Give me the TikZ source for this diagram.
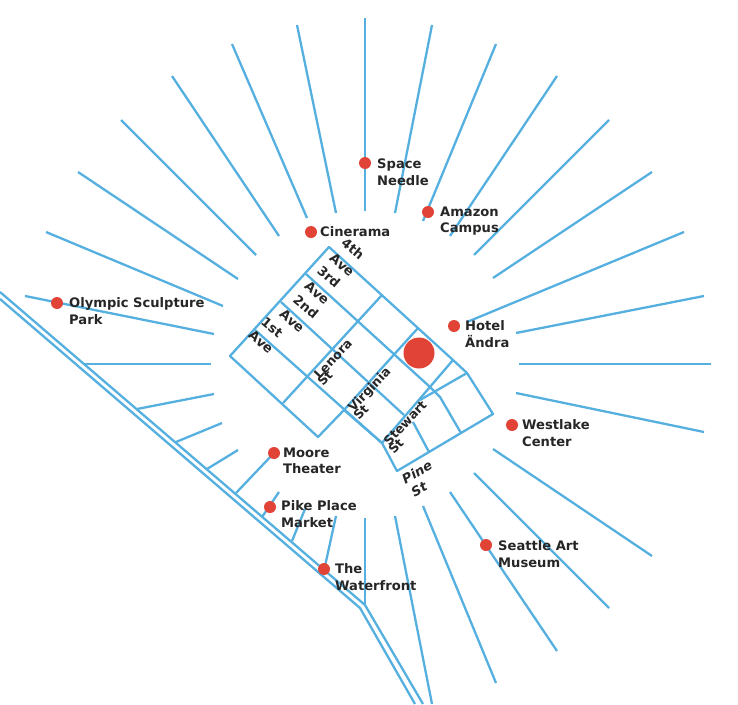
\documentclass[tikz,border=0pt]{standalone}
\usepackage{fontspec}
\setmainfont{DejaVu Sans}
\definecolor{roadblue}{HTML}{55B0E0}
\definecolor{spotred}{HTML}{E14437}
\definecolor{labelgray}{HTML}{262626}
\tikzset{
  road/.style={roadblue,line width=2.3pt},
  spot/.style={circle,fill=spotred,inner sep=0pt,minimum size=12pt},
  place/.style={right,align=left,inner sep=0pt,text=labelgray,font=\fontsize{13.1}{16.5}\selectfont\bfseries},
  avelabel/.style={inner sep=0pt,text=labelgray,rotate=-40,font=\fontsize{13.1}{16}\selectfont\bfseries},
  stlabel/.style={inner sep=0pt,text=labelgray,rotate=47,font=\fontsize{12.6}{16}\selectfont\bfseries},
  pinelabel/.style={inner sep=0pt,text=labelgray,rotate=30,font=\fontsize{13.1}{16}\selectfont\bfseries\itshape}
}
\begin{document}
\begin{tikzpicture}[x=1pt,y=-1pt]
    \useasboundingbox (0,0) rectangle (738,704);
    % rays round the centre
    \foreach \xa/\ya/\xb/\yb in {365/18/365/211, 297/25/336/213, 232/44/307/218, 172/76/279/236,
        121/120/256/255, 78/172/238/279, 46/232/223/306, 25/296/214/334,
        84/364/211/364, 137/409/214/394, 176/442/222/423, 207/469/238/450,
        236/493/274/453, 262/517/279/492, 292/541/305/509, 325/566/336/516,
        365/518/365/605, 395/516/432/704, 423/506/496/683, 450/492/557/651,
        474/473/609/608, 493/449/652/556, 516/393/704/432, 519/364/711/364,
        516/333/704/296, 467/322/684/232, 493/278/652/172, 474/255/609/120,
        450/236/557/76, 423/221/496/44, 395/213/432/25}
        { \draw[road] (\xa,\ya)--(\xb,\yb); }
    % highway
    \draw[road] (0,292)--(365,605)--(423,704);
    \draw[road] (0,299)--(360,608)--(415,704);
    % streets
    \draw[road,line join=round] (329,247)--(453,360)--(467,373)--(493,414)--(397,471)--(382,443)--(344,410)--(318,437)--(230,356)--cycle;
    \draw[road] (255,330)--(382,443);
    \draw[road] (281,302)--(404,415);
    \draw[road] (306,274)--(430,387)--(440,397)--(461,433);
    \draw[road] (413,422)--(429,452);
    \draw[road] (382,295)--(283,403);
    \draw[road] (453,360)--(382,443);
    \draw[road] (418,328)--(344,410);
    \draw[road] (467,373)--(420,400);
    % places
    \node[spot] (needle) at (365,163) {};
    \node[place] at (377,172) {Space\\Needle};
    \node[spot] (amazon) at (428,212) {};
    \node[place] at (440,221) {Amazon\\Campus};
    \node[spot] (cinerama) at (311,232) {};
    \node[place] at (320,232) {Cinerama};
    \node[spot] (olympic) at (57,303) {};
    \node[place] at (69,311) {Olympic Sculpture\\Park};
    \node[spot] (hotel) at (454,326) {};
    \node[place] at (465,334) {Hotel\\Ändra};
    \node[spot,minimum size=31pt] (here) at (419,353) {};
    \node[spot] (westlake) at (512,425) {};
    \node[place] at (522,433) {Westlake\\Center};
    \node[spot] (moore) at (274,453) {};
    \node[place] at (283,461) {Moore\\Theater};
    \node[spot] (pike) at (270,507) {};
    \node[place] at (281,514) {Pike Place\\Market};
    \node[spot] (seattle) at (486,545) {};
    \node[place] at (498,554) {Seattle Art\\Museum};
    \node[spot] (waterfront) at (324,569) {};
    \node[place] at (335,577) {The\\Waterfront};
    % street names
    \node[avelabel] (fourth) at (353,249) {4th};
    \node[avelabel] (fourthave) at (342,265) {Ave};
    \node[avelabel] (third) at (329,277) {3rd};
    \node[avelabel] (thirdave) at (317,293) {Ave};
    \node[avelabel] (second) at (306,307) {2nd};
    \node[avelabel] (secondave) at (292,321) {Ave};
    \node[avelabel] (first) at (272,327) {1st};
    \node[avelabel] (firstave) at (261,342) {Ave};
    \node[stlabel] (lenora) at (333,359) {Lenora};
    \node[stlabel] (lenorast) at (325,378) {St};
    \node[stlabel] (virginia) at (370,390) {Virginia};
    \node[stlabel] (virginiast) at (361,412) {St};
    \node[stlabel] (stewart) at (405,423) {Stewart};
    \node[stlabel] (stewartst) at (396,446) {St};
    \node[pinelabel] (pine) at (417,472) {Pine};
    \node[pinelabel] (pinest) at (419,489) {St};
\end{tikzpicture}
\end{document}
